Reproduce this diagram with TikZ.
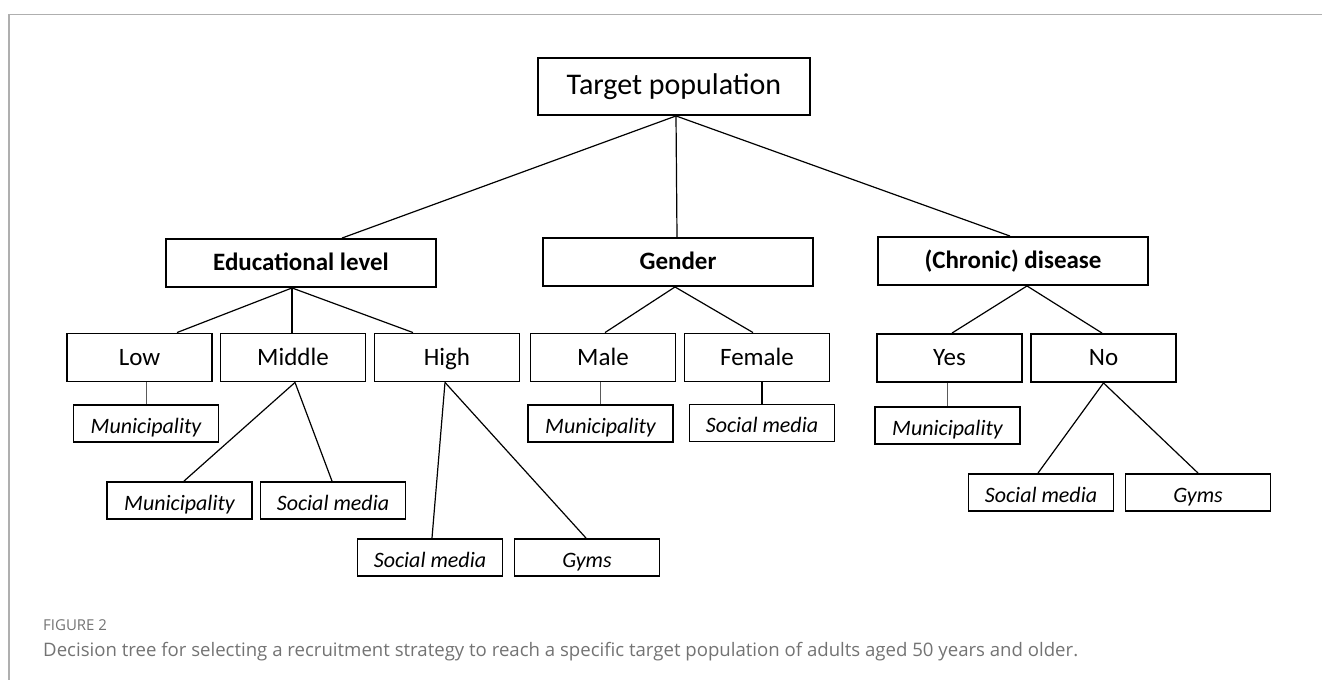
\documentclass[tikz,border=0pt]{standalone}
\usepackage{fontspec}
\setmainfont{Carlito}
\newfontfamily\capfont{Open Sans}
\definecolor{capgray}{RGB}{115,115,115}
\definecolor{framegray}{RGB}{175,175,175}
\definecolor{lnkgray}{RGB}{90,90,90}
\begin{document}
\begin{tikzpicture}[x=1pt,y=-1pt,
  box/.style={draw, line width=1.9pt, inner sep=0pt, align=center},
  head/.style={box, minimum width=272pt, minimum height=57pt, text height=21pt, text depth=6pt, font=\fontsize{30}{36}\selectfont},
  cat/.style={box, minimum width=270pt, minimum height=48pt, text height=20.8pt, text depth=5pt, font=\fontsize{25}{30}\selectfont\bfseries},
  opt/.style={box, minimum width=145pt, minimum height=48pt, text height=20.8pt, text depth=5pt, font=\fontsize{25}{30}\selectfont},
  leaf/.style={box, minimum width=145pt, minimum height=37pt, text height=23pt, text depth=4pt, font=\fontsize{22}{26}\selectfont\itshape},
  conn/.style={line width=1.2pt},
  thinconn/.style={line width=0.9pt, draw=lnkgray}]
\useasboundingbox (0,0) rectangle (1322,680);
\draw[framegray, line width=1.3pt] (1322,14.5) -- (9,14.5) -- (9,680);

\node[head] (tp) at (674,86.5) {Target population};
\node[cat] (edu) at (301,263) {Educational level};
\node[cat] (gen) at (678,262) {Gender};
\node[cat] (chr) at (1013,261) {(Chronic) disease};

\node[opt] (low) at (139.5,357.5) {Low};
\node[opt] (mid) at (293,357.5) {Middle};
\node[opt] (high) at (447,357.5) {High};
\node[opt] (male) at (603,357.5) {Male};
\node[opt] (fem) at (757,357.5) {Female};
\node[opt] (yes) at (949.5,358) {Yes};
\node[opt] (no) at (1103.5,358) {No};

\node[leaf] (lm) at (146,423.5) {Municipality};
\node[leaf] (mm) at (179.5,500.5) {Municipality};
\node[leaf] (ms) at (333,500.5) {Social media};
\node[leaf] (hs) at (430,557.5) {Social media};
\node[leaf] (hg) at (587,557.5) {Gyms};
\node[leaf] (mmu) at (600.5,423.5) {Municipality};
\node[leaf] (fs) at (762,423) {Social media};
\node[leaf] (ym) at (947.5,425.5) {Municipality};
\node[leaf] (ns) at (1041,492.5) {Social media};
\node[leaf] (ng) at (1198,492.5) {Gyms};

\draw[conn] ([xshift=2pt]tp.south) -- ([xshift=41pt]edu.north);
\draw[conn] ([xshift=2pt]tp.south) -- ([xshift=-1pt]gen.north);
\draw[conn] ([xshift=2pt]tp.south) -- ([xshift=-3pt]chr.north);

\draw[conn] ([xshift=-9pt]edu.south) -- ([xshift=37.5pt]low.north);
\draw[conn] ([xshift=-9pt]edu.south) -- ([xshift=-1pt]mid.north);
\draw[conn] ([xshift=-9pt]edu.south) -- ([xshift=-34pt]high.north);

\draw[conn] ([xshift=-3pt]gen.south) -- ([xshift=2pt]male.north);
\draw[conn] ([xshift=-3pt]gen.south) -- ([xshift=-4pt]fem.north);

\draw[conn] ([xshift=14pt]chr.south) -- ([xshift=2.5pt]yes.north);
\draw[conn] ([xshift=14pt]chr.south) -- ([xshift=-1.5pt]no.north);

\draw[thinconn] (low.south -| lm.north) -- (lm.north);
\draw[conn] ([xshift=2pt]mid.south) -- ([xshift=4.5pt]mm.north);
\draw[conn] ([xshift=2pt]mid.south) -- ([xshift=-1pt]ms.north);
\draw[conn] ([xshift=-2pt]high.south) -- ([xshift=2pt]hs.north);
\draw[conn] ([xshift=-2pt]high.south) -- ([xshift=-1pt]hg.north);
\draw[thinconn] (male.south -| mmu.north) -- (mmu.north);
\draw[conn] (fem.south -| fs.north) -- (fs.north);
\draw[thinconn] (yes.south -| ym.north) -- (ym.north);
\draw[conn] (no.south) -- ([xshift=-3pt]ns.north);
\draw[conn] (no.south) -- (ng.north);

\node[anchor=base west, inner sep=0pt, text=capgray, font=\capfont\fontsize{15}{18}\selectfont] (fig) at (43,630) {FIGURE 2};
\node[anchor=base west, inner sep=0pt, text=capgray, font=\capfont\fontsize{18.6}{22}\selectfont] (cap) at (43,656) {Decision tree for selecting a recruitment strategy to reach a specific target population of adults aged 50 years and older.};
\end{tikzpicture}
\end{document}
